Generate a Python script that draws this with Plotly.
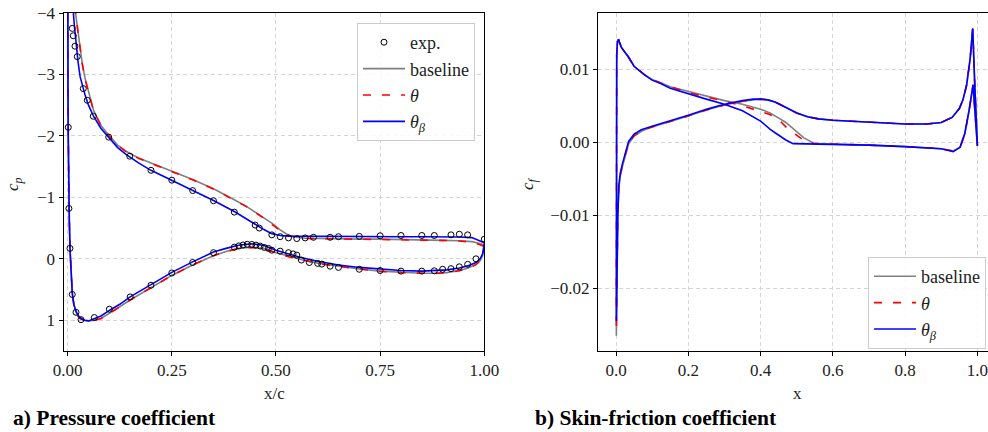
import plotly.graph_objects as go

# ---------------- Pressure coefficient data ----------------
# upper surface stations (trailing edge -> leading edge)
xu = [1.0, 0.99, 0.97, 0.94, 0.9, 0.85, 0.8, 0.75, 0.7, 0.65, 0.6, 0.57, 0.55, 0.53, 0.51,
      0.49, 0.47, 0.45, 0.43, 0.4, 0.35, 0.3, 0.25, 0.2, 0.17, 0.14, 0.12, 0.1, 0.08, 0.062,
      0.05, 0.042, 0.035, 0.03, 0.025, 0.02, 0.016, 0.012, 0.008, 0.005, 0.003, 0.0015,
      0.0007, 0.0002, 0.0]
cp_base_u = [-0.22, -0.25, -0.28, -0.295, -0.30, -0.31, -0.315, -0.32, -0.32, -0.325, -0.33,
             -0.335, -0.35, -0.385, -0.47, -0.58, -0.67, -0.76, -0.85, -0.96, -1.14, -1.29,
             -1.42, -1.55, -1.64, -1.75, -1.85, -2.0, -2.17, -2.42, -2.7, -2.93, -3.18, -3.45,
             -3.7, -3.92, -4.15, -4.55, -5.1, -5.6, -5.9, -6.0, -5.6, -5.1, -4.7]
cp_theta_u = [-0.20, -0.23, -0.27, -0.29, -0.30, -0.305, -0.31, -0.315, -0.32, -0.32, -0.325,
              -0.33, -0.345, -0.38, -0.46, -0.57, -0.665, -0.755, -0.845, -0.955, -1.135,
              -1.285, -1.415, -1.545, -1.635, -1.745, -1.845, -1.995, -2.165, -2.41, -2.69,
              -2.92, -3.17, -3.44, -3.69, -3.91, -4.14, -4.54, -5.1, -5.6, -5.9, -6.0, -5.6,
              -5.1, -4.7]
cp_beta_u = [-0.26, -0.29, -0.345, -0.355, -0.36, -0.36, -0.36, -0.36, -0.36, -0.36, -0.36,
             -0.36, -0.365, -0.37, -0.38, -0.41, -0.48, -0.565, -0.65, -0.77, -0.95, -1.11,
             -1.27, -1.44, -1.56, -1.7, -1.81, -1.96, -2.12, -2.32, -2.5, -2.66, -2.82, -2.96,
             -3.2, -3.5, -3.8, -4.15, -4.7, -5.2, -5.5, -5.6, -5.3, -4.9, -4.5]

# lower surface stations (leading edge -> trailing edge)
xl = [0.0, 0.0003, 0.0008, 0.0015, 0.0025, 0.004, 0.006, 0.008, 0.011, 0.015, 0.02, 0.025,
      0.03, 0.04, 0.05, 0.065, 0.08, 0.1, 0.125, 0.15, 0.2, 0.25, 0.3, 0.35, 0.38, 0.41, 0.44,
      0.47, 0.5, 0.53, 0.56, 0.6, 0.65, 0.7, 0.75, 0.8, 0.85, 0.88, 0.91, 0.94, 0.96, 0.98,
      0.99, 0.996, 1.0]
cp_base_l = [-4.7, -3.7, -2.8, -2.0, -1.25, -0.62, -0.12, 0.24, 0.55, 0.75, 0.86, 0.93, 0.97,
             1.0, 1.01, 1.0, 0.97, 0.89, 0.78, 0.67, 0.47, 0.27, 0.10, -0.05, -0.12, -0.17,
             -0.19, -0.17, -0.10, -0.04, 0.01, 0.07, 0.12, 0.165, 0.20, 0.22, 0.235, 0.235,
             0.225, 0.19, 0.155, 0.09, 0.03, -0.05, -0.22]
cp_theta_l = [-4.7, -3.7, -2.8, -2.0, -1.25, -0.62, -0.12, 0.24, 0.55, 0.76, 0.87, 0.935, 0.975,
              1.0, 1.01, 1.0, 0.97, 0.89, 0.78, 0.67, 0.47, 0.27, 0.10, -0.05, -0.12, -0.165,
              -0.185, -0.165, -0.10, -0.035, 0.015, 0.075, 0.125, 0.17, 0.205, 0.225, 0.24,
              0.24, 0.225, 0.195, 0.16, 0.095, 0.03, -0.05, -0.20]
cp_beta_l = [-4.5, -3.6, -2.7, -1.9, -1.2, -0.6, -0.1, 0.25, 0.56, 0.75, 0.86, 0.92, 0.96,
             1.0, 1.01, 0.97, 0.93, 0.84, 0.74, 0.62, 0.42, 0.22, 0.05, -0.11, -0.17, -0.22,
             -0.245, -0.22, -0.14, -0.08, -0.02, 0.04, 0.10, 0.14, 0.17, 0.19, 0.20, 0.195,
             0.18, 0.15, 0.115, 0.06, 0.0, -0.08, -0.25]

# experiment
exp_x = [0.011, 0.0135, 0.0175, 0.023, 0.0375, 0.047, 0.0615, 0.0985, 0.149, 0.20, 0.25, 0.30,
         0.35, 0.40, 0.45, 0.46, 0.49, 0.51, 0.53, 0.55, 0.57, 0.59, 0.63, 0.65, 0.70, 0.75,
         0.80, 0.85, 0.88, 0.92, 0.94, 0.96, 1.0,
         0.0015, 0.003, 0.0055, 0.011, 0.020, 0.032, 0.064, 0.10, 0.15, 0.20, 0.25, 0.30, 0.35,
         0.40, 0.411, 0.421, 0.431, 0.442, 0.452, 0.462, 0.472, 0.482, 0.49, 0.51, 0.53, 0.541,
         0.55, 0.561, 0.58, 0.60, 0.61, 0.63, 0.65, 0.70, 0.75, 0.80, 0.85, 0.88, 0.90, 0.92,
         0.94, 0.96, 0.98]
exp_cp = [-3.75, -3.63, -3.46, -3.29, -2.77, -2.58, -2.32, -1.98, -1.67, -1.44, -1.28, -1.11,
          -0.945, -0.76, -0.55, -0.50, -0.39, -0.36, -0.34, -0.33, -0.34, -0.35, -0.35, -0.36,
          -0.365, -0.375, -0.38, -0.38, -0.38, -0.39, -0.40, -0.39, -0.32,
          -2.14, -0.82, -0.17, 0.58, 0.87, 0.99, 0.955, 0.82, 0.62, 0.43, 0.23, 0.06, -0.10,
          -0.19, -0.21, -0.225, -0.236, -0.234, -0.223, -0.207, -0.185, -0.169, -0.14, -0.125,
          -0.10, -0.08, -0.06, 0.02, 0.06, 0.075, 0.086, 0.12, 0.14, 0.17, 0.19, 0.20, 0.20,
          0.195, 0.17, 0.16, 0.13, 0.09, 0.0]

# ---------------- Skin-friction data ----------------
# branch A (trailing edge -> leading edge)
xa = [1.0, 0.988, 0.977, 0.965, 0.952, 0.933, 0.9, 0.85, 0.8, 0.7, 0.6, 0.55, 0.52, 0.49,
      0.47, 0.454, 0.44, 0.426, 0.4, 0.35, 0.3, 0.25, 0.2, 0.15, 0.125, 0.1, 0.08, 0.05,
      0.034, 0.016, 0.01, 0.007, 0.004, 0.002]
cf_base_a = [-0.0005, 0.0078, 0.0043, 0.0011, -0.0007, -0.0012, -0.0009, -0.0007, -0.0006,
             -0.0004, -0.0003, -0.0002, 0.0006, 0.0019, 0.0027, 0.0032, 0.0036, 0.0040,
             0.00453, 0.0052, 0.0057, 0.0063, 0.0069, 0.0076, 0.0081, 0.0086, 0.0092, 0.0104,
             0.0117, 0.0129, 0.0136, 0.0141, 0.0138, 0.0120]
cf_theta_a = [-0.0005, 0.0078, 0.0043, 0.0011, -0.0007, -0.0012, -0.0009, -0.0007, -0.0006,
              -0.0004, -0.0003, -0.0002, 0.0002, 0.0013, 0.0021, 0.0029, 0.0034, 0.0038,
              0.0042, 0.0050, 0.0056, 0.0062, 0.0068, 0.0076, 0.0081, 0.0086, 0.0092, 0.0104,
              0.0117, 0.0129, 0.0136, 0.0141, 0.0138, 0.0120]
cf_beta_a = [-0.0005, 0.0079, 0.0044, 0.0012, -0.0007, -0.0013, -0.0009, -0.0007, -0.0006,
             -0.0004, -0.0003, -0.0003, -0.00025, -0.0002, 0.0003, 0.0008, 0.0013, 0.0018,
             0.0029, 0.0043, 0.0052, 0.0059, 0.0066, 0.0074, 0.0080, 0.0085, 0.0092, 0.0104,
             0.0117, 0.0129, 0.0136, 0.0141, 0.0138, 0.0120]
# branch B (leading edge -> trailing edge)
xb = [0.001, 0.002, 0.003, 0.005, 0.008, 0.012, 0.018, 0.025, 0.03, 0.035, 0.05, 0.07, 0.1,
      0.15, 0.2, 0.25, 0.3, 0.35, 0.38, 0.4, 0.42, 0.44, 0.47, 0.5, 0.53, 0.56, 0.6, 0.7, 0.8,
      0.86, 0.9, 0.93, 0.95, 0.96, 0.97, 0.98, 0.987, 0.993, 1.0]
cf_base_b = [-0.0265, -0.021, -0.0155, -0.0103, -0.0063, -0.0046, -0.0033, -0.0020, -0.0011,
             -0.0002, 0.0008, 0.0015, 0.0021, 0.0028, 0.0036, 0.0044, 0.0051, 0.0056, 0.0058,
             0.0059, 0.0058, 0.0055, 0.0048, 0.0040, 0.0035, 0.0032, 0.0030, 0.0027, 0.0025,
             0.0025, 0.0027, 0.0034, 0.0046, 0.0058, 0.0078, 0.0114, 0.0155, 0.0075, -0.0005]
cf_theta_b = [-0.0258, -0.0205, -0.0152, -0.0100, -0.0061, -0.0044, -0.0031, -0.0018, -0.0010,
              -0.0001, 0.0009, 0.0016, 0.0021, 0.0028, 0.0036, 0.0044, 0.0051, 0.0056, 0.0058,
              0.0059, 0.0058, 0.0055, 0.0048, 0.0040, 0.0035, 0.0032, 0.0030, 0.0027, 0.0025,
              0.0025, 0.0027, 0.0034, 0.0046, 0.0058, 0.0078, 0.0114, 0.0155, 0.0075, -0.0005]
cf_beta_b = [-0.0245, -0.020, -0.0148, -0.0098, -0.0058, -0.0042, -0.0029, -0.0016, -0.0008,
             0.0001, 0.0011, 0.0017, 0.0022, 0.0029, 0.0037, 0.0045, 0.0052, 0.0057, 0.0059,
             0.0059, 0.0058, 0.0055, 0.0048, 0.0040, 0.0035, 0.0032, 0.0030, 0.0027, 0.0025,
             0.0025, 0.0027, 0.0034, 0.0046, 0.0058, 0.0078, 0.0115, 0.0156, 0.0075, -0.0005]

# ---------------- styling ----------------
FONT = "Liberation Serif, Times New Roman, serif"
GRAY, RED, BLUE = "#808080", "#ff0000", "#0000ff"
LW = 1.6
DASH = "8px,11px"

names = ["baseline", "<i>θ</i>", "<i>θ</i><sub><i>β</i></sub>"]
colors = [GRAY, RED, BLUE]
dashes = ["solid", DASH, "solid"]

fig = go.Figure()

cp_sets = [(cp_base_u, cp_base_l), (cp_theta_u, cp_theta_l), (cp_beta_u, cp_beta_l)]
for i, (cu, cl) in enumerate(cp_sets):
    fig.add_trace(go.Scatter(
        x=xu + xl, y=cu + cl, mode="lines", name=names[i],
        line=dict(color=colors[i], width=LW, dash=dashes[i]),
        xaxis="x", yaxis="y", legend="legend", legendrank=i + 2))

fig.add_trace(go.Scatter(
    x=exp_x, y=exp_cp, mode="markers", name="exp.",
    marker=dict(symbol="circle-open", size=6, color="black", line=dict(width=1, color="black")),
    xaxis="x", yaxis="y", legend="legend", legendrank=1))

cf_sets = [(cf_base_a, cf_base_b), (cf_theta_a, cf_theta_b), (cf_beta_a, cf_beta_b)]
for i, (ca, cb) in enumerate(cf_sets):
    fig.add_trace(go.Scatter(
        x=xa + xb, y=ca + cb, mode="lines", name=names[i],
        line=dict(color=colors[i], width=LW, dash=dashes[i]),
        xaxis="x2", yaxis="y2", legend="legend2", legendrank=i + 2))

W, H = 988, 432
axis_common = dict(
    showline=True, linecolor="black", linewidth=1,
    ticks="outside", ticklen=4, tickwidth=1, tickcolor="black",
    showgrid=True, gridcolor="#d4d4d4", griddash="4px,3px", gridwidth=1,
    zeroline=False, automargin=False, ticklabeloverflow="allow",
    tickfont=dict(family=FONT, size=17, color="#222"),
)
legend_common = dict(
    bgcolor="rgba(255,255,255,0.85)", bordercolor="#cccccc", borderwidth=1,
    font=dict(family=FONT, size=18, color="#222"), tracegroupgap=0, itemwidth=42,
)

fig.update_layout(
    template="none",
    width=W, height=H,
    margin=dict(l=0, r=0, t=0, b=0, pad=0),
    paper_bgcolor="white", plot_bgcolor="white",
    font=dict(family=FONT, size=17, color="#222"),
    xaxis=dict(domain=[63.5 / W, 484.3 / W], range=[-0.01, 1.0],
               tickvals=[0, 0.25, 0.5, 0.75, 1.0], tickformat=".2f",
               mirror=True, anchor="y", **axis_common),
    yaxis=dict(domain=[1 - 351 / H, 1 - 13 / H], range=[1.5, -4],
               tickvals=[-4, -3, -2, -1, 0, 1], mirror=True, anchor="x", **axis_common),
    xaxis2=dict(domain=[598 / W, 1.0], range=[-0.0498, 1.0293],
                tickvals=[0, 0.2, 0.4, 0.6, 0.8, 1.0], tickformat=".1f",
                mirror=True, anchor="y2", **axis_common),
    yaxis2=dict(domain=[1 - 351 / H, 1 - 13 / H], range=[-0.0286, 0.0177],
                tickvals=[-0.02, -0.01, 0.0, 0.01], tickformat=".2f",
                mirror=False, anchor="x2", **axis_common),
    legend=dict(x=475 / W, xanchor="right", y=1 - 23 / H, yanchor="top", **legend_common),
    legend2=dict(x=986 / W, xanchor="right", y=1 - 257 / H, yanchor="top", **legend_common),
    showlegend=True,
)


def label(text, px, py, size=17, angle=0, xanchor="center", color="#222"):
    return dict(text=text, x=px / W, y=1 - py / H, xref="paper", yref="paper",
                xanchor=xanchor, yanchor="middle", showarrow=False, textangle=angle,
                font=dict(family=FONT, size=size, color=color))


fig.update_layout(annotations=[
    label("x/c", 274, 393),
    label("x", 797, 393),
    label("<i>c</i><sub><i>p</i></sub>", 14, 184, angle=-90),
    label("<i>c</i><sub><i>f</i></sub>", 529, 184, angle=-90),
    label("<b>a) Pressure coefficient</b>", 11, 418, size=21.5, xanchor="left", color="black"),
    label("<b>b) Skin-friction coefficient</b>", 533, 418, size=21.5, xanchor="left",
          color="black"),
])

fig.write_html("out.html", config={"displayModeBar": False},
               post_script="document.body.style.margin='0px';")
